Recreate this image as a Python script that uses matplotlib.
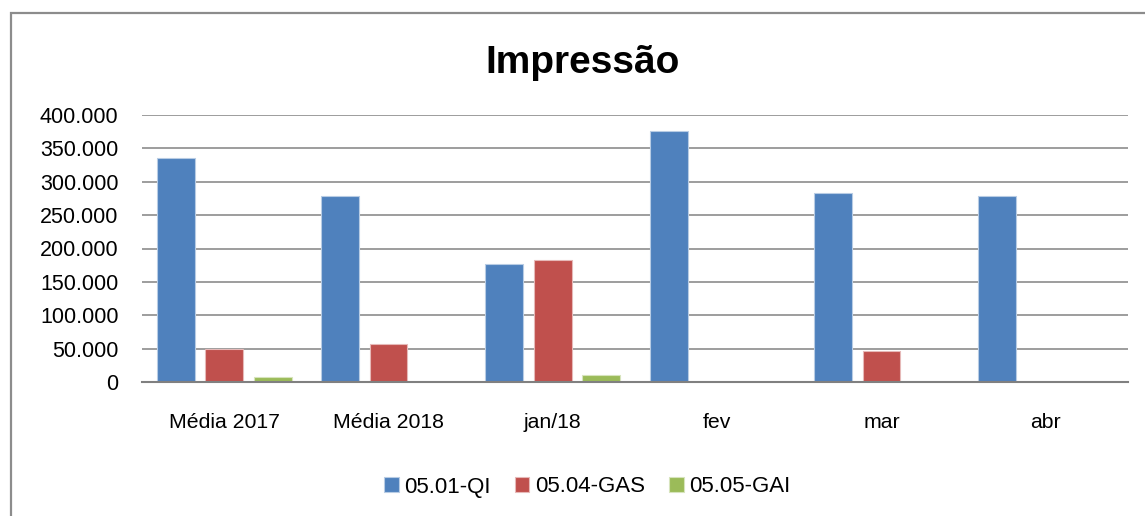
import matplotlib.pyplot as plt
import numpy as np
from matplotlib.patches import Rectangle

# dados
categorias = ["Média 2017", "Média 2018", "jan/18", "fev", "mar", "abr"]
series = ["05.01-QI", "05.04-GAS", "05.05-GAI"]
qi = [335000, 278500, 177500, 376000, 283000, 278500]
gas = [50000, 56500, 183500, 0, 46500, 0]
gai = [7500, 0, 10000, 0, 0, 0]
yticks = [0, 50000, 100000, 150000, 200000, 250000, 300000, 350000, 400000]

cores = ['#4F81BD', '#C0504D', '#9BBB59']
bordas = ['#B8CCE4', '#E6B9B8', '#D7E4BD']

plt.rcParams['font.family'] = ['Liberation Sans', 'DejaVu Sans']

fig = plt.figure(figsize=(11.45, 5.16), dpi=100)
ax = fig.add_axes([142/1145, 1-382/516, (1128-142)/1145, (382-115)/516])

# moldura do grafico (so aparece esquerda e topo)
fig.patches.append(Rectangle((11/1145, -0.1), 1.2, 1-13/516+0.1, transform=fig.transFigure,
                             fill=False, edgecolor='#8c8c8c', linewidth=1.6))

x = np.arange(len(categorias))
w = 0.231
passo = 0.296
for i, vals in enumerate([qi, gas, gai]):
    ax.bar(x + (i-1)*passo, vals, width=w, color=cores[i], edgecolor=bordas[i],
           linewidth=0.8, label=series[i], zorder=3)

ax.set_xlim(-0.5, len(categorias)-0.5)
ax.set_ylim(0, 400000)
ax.set_yticks(yticks)
ax.set_yticklabels([f"{v:,}".replace(",", ".") for v in yticks], fontsize=15.5)
ax.set_xticks(x)
ax.set_xticklabels(categorias, fontsize=15.3)
ax.tick_params(axis='y', length=0, pad=17)
ax.tick_params(axis='x', length=0, pad=22)
ax.grid(axis='y', color='#8c8c8c', linewidth=1.2, zorder=0)
for s in ['left', 'right', 'top']:
    ax.spines[s].set_visible(False)
ax.spines['bottom'].set_color('#808080')
ax.spines['bottom'].set_linewidth(1.5)
ax.spines['bottom'].set_zorder(4)

fig.text(0.509, 1-73/516, "Impressão", fontsize=28, fontweight='bold', ha='center', va='baseline')

fig.legend(loc='center', bbox_to_anchor=(0.513, 1-487/516), ncol=3, frameon=False,
           fontsize=16, handlelength=0.64, handleheight=0.64, handletextpad=0.25,
           columnspacing=1.1)

fig.savefig("out.png", dpi=100)
